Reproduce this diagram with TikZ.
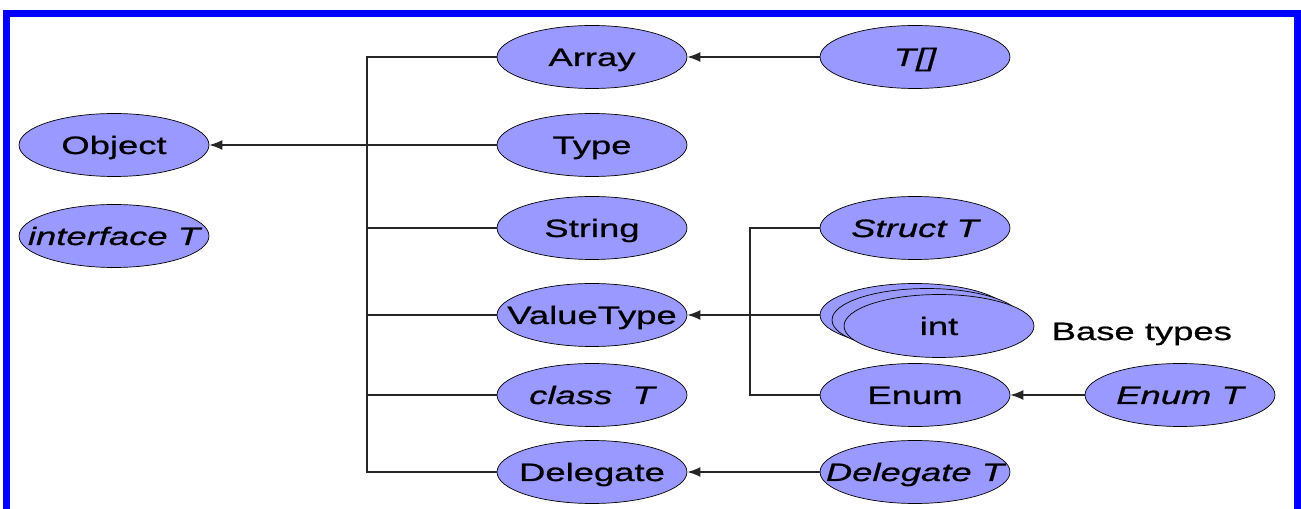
\documentclass[tikz,border=0pt]{standalone}
\usepackage{fontspec}
\setmainfont{Liberation Sans}[FakeStretch=1.45, FakeBold=0.8]
\usepackage{tikz}
\usetikzlibrary{arrows.meta,positioning,shapes.geometric}
\definecolor{typfill}{HTML}{9999FF}
\definecolor{frameblue}{HTML}{0000FF}

\begin{document}
\begin{tikzpicture}[
    x=0.02cm, y=-0.02cm,
    font=\fontsize{14.3}{17}\selectfont,
    typ/.style={ellipse, draw=black, fill=typfill, minimum width=3.8cm, minimum height=1.26cm, inner sep=0pt,
      text height=0.4cm, text depth=0.04cm,
      execute at begin node=\hbox to 0pt\bgroup\hss, execute at end node=\hss\egroup},
    gen/.style={typ, font=\fontsize{14.3}{17}\selectfont\itshape},
    link/.style={draw=black!85, line width=0.8pt},
    arrow/.style={link, -{Latex[length=0.26cm, width=0.2cm]}}
  ]
    \useasboundingbox (0,0) rectangle (1301,509);
    \draw[frameblue, line width=0.14cm] (6.5,530) |- (1297.5,13.5) -- (1297.5,530);

    \node[typ] (object) at (114,145) {Object};
    \node[gen] (iface) at (114,236) {interface T};
    \node[typ] (array) at (592,57) {Array};
    \node[typ] (type) at (592,145) {Type};
    \node[typ] (string) at (592,228) {String};
    \node[typ] (valuetype) at (592,315) {ValueType};
    \node[gen] (classt) at (592,395) {class\ \ T};
    \node[typ] (delegate) at (592,472) {Delegate};
    \node[gen] (tarray) at (915,57) {T[]};
    \node[gen] (structt) at (915,228) {Struct T};
    \node[typ] (int1) at (915,315) {};
    \node[typ] (int2) at (927,320) {};
    \node[typ] (int3) at (939,326) {int};
    \node[inner sep=0pt, right=0.34cm of int3, yshift=-0.16cm] (basetypes) {Base types};
    \node[typ] (enum) at (915,395) {Enum};
    \node[gen] (enumt) at (1180,395) {Enum T};
    \node[gen] (delegatet) at (915,472) {Delegate T};

    \coordinate (bus1) at (367,145);
    \coordinate (bus2) at (750,315);
    \draw[arrow] (type) -- (object);
    \draw[link] (array) -| (bus1) |- (delegate);
    \draw[link] (string) -- (string -| bus1);
    \draw[link] (valuetype) -- (valuetype -| bus1);
    \draw[link] (classt) -- (classt -| bus1);
    \draw[arrow] (int1) -- (valuetype);
    \draw[link] (structt) -| (bus2) |- (enum);
    \draw[arrow] (tarray) -- (array);
    \draw[arrow] (enumt) -- (enum);
    \draw[arrow] (delegatet) -- (delegate);
  \end{tikzpicture}
\end{document}
